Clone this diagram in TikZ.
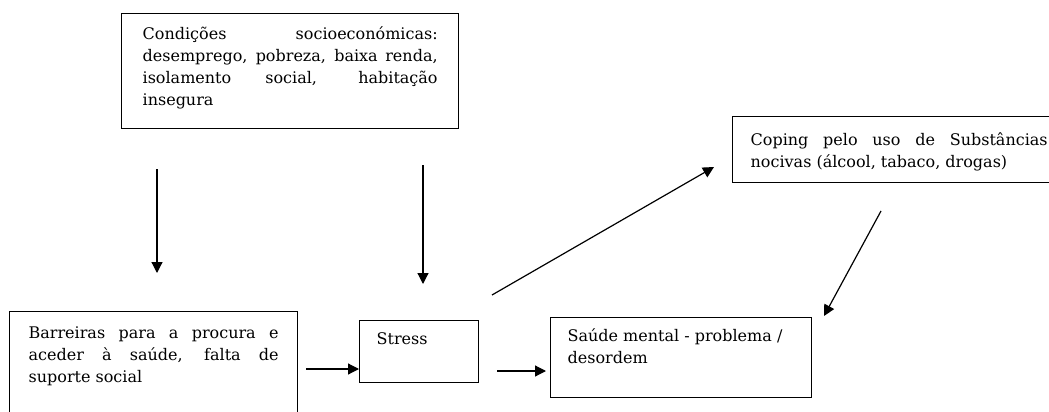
\documentclass[tikz,border=0pt]{standalone}
\usepackage{fontspec}
\setmainfont{DejaVu Serif}
\usetikzlibrary{arrows.meta}
\newcommand{\bxt}[3]{\parbox[t][#2][t]{#1}{\strut #3}}
\tikzset{
  boxnode/.style={draw, line width=1.3pt, anchor=north west, inner ysep=#1, align=left, font=\fontsize{16}{22}\selectfont},
  conn/.style={line width=1.2pt, -{Triangle[length=11pt,width=11pt]}}
}
\begin{document}
\begin{tikzpicture}[x=1pt,y=-1pt]
\useasboundingbox (0,0) rectangle (1049,412);
\clip (0,0) rectangle (1049,412);
\fill[white] (0,0) rectangle (1049,412);

\node[boxnode=10.6pt, inner xsep=21pt] (cond) at (121,13)
  {\bxt{295pt}{93.8pt}{Condições socioeconómicas:\linebreak desemprego, pobreza, baixa renda,\linebreak isolamento social, habitação\linebreak insegura}};

\node[boxnode=11.6pt, inner xsep=19pt] (barr) at (9,311)
  {\bxt{250pt}{106pt}{Barreiras para a procura e\linebreak aceder à saúde, falta de\linebreak suporte social}};

\node[boxnode=8.6pt, inner xsep=17pt] (stress) at (359,320)
  {\bxt{85pt}{44.8pt}{Stress}};

\node[boxnode=8.6pt, inner xsep=17pt] (saude) at (550,317)
  {\bxt{227pt}{62.8pt}{Saúde mental - problema /\\ desordem}};

\node[boxnode=13.6pt, inner xsep=18pt] (coping) at (732,116)
  {\bxt{297pt}{38.8pt}{Coping pelo uso de Substâncias\linebreak nocivas (álcool, tabaco, drogas)}};

\coordinate (a1s) at (157,169);
\coordinate (a1e) at (157,273);
\coordinate (a2s) at (423,165);
\coordinate (a2e) at (423,284);
\coordinate (a3s) at (306,369);
\coordinate (a4s) at (497,371);
\coordinate (a5s) at (492,295);
\coordinate (a5e) at (714,167);
\coordinate (a6s) at (881,211);
\coordinate (a6e) at (824,316);

\draw[conn] (a1s) -- (a1e);
\draw[conn] (a2s) -- (a2e);
\draw[conn] (a3s) -- (a3s -| stress.west);
\draw[conn] (a4s) -- ([xshift=-4pt]a4s -| saude.west);
\draw[conn] (a5s) -- (a5e);
\draw[conn] (a6s) -- (a6e);
\end{tikzpicture}
\end{document}
